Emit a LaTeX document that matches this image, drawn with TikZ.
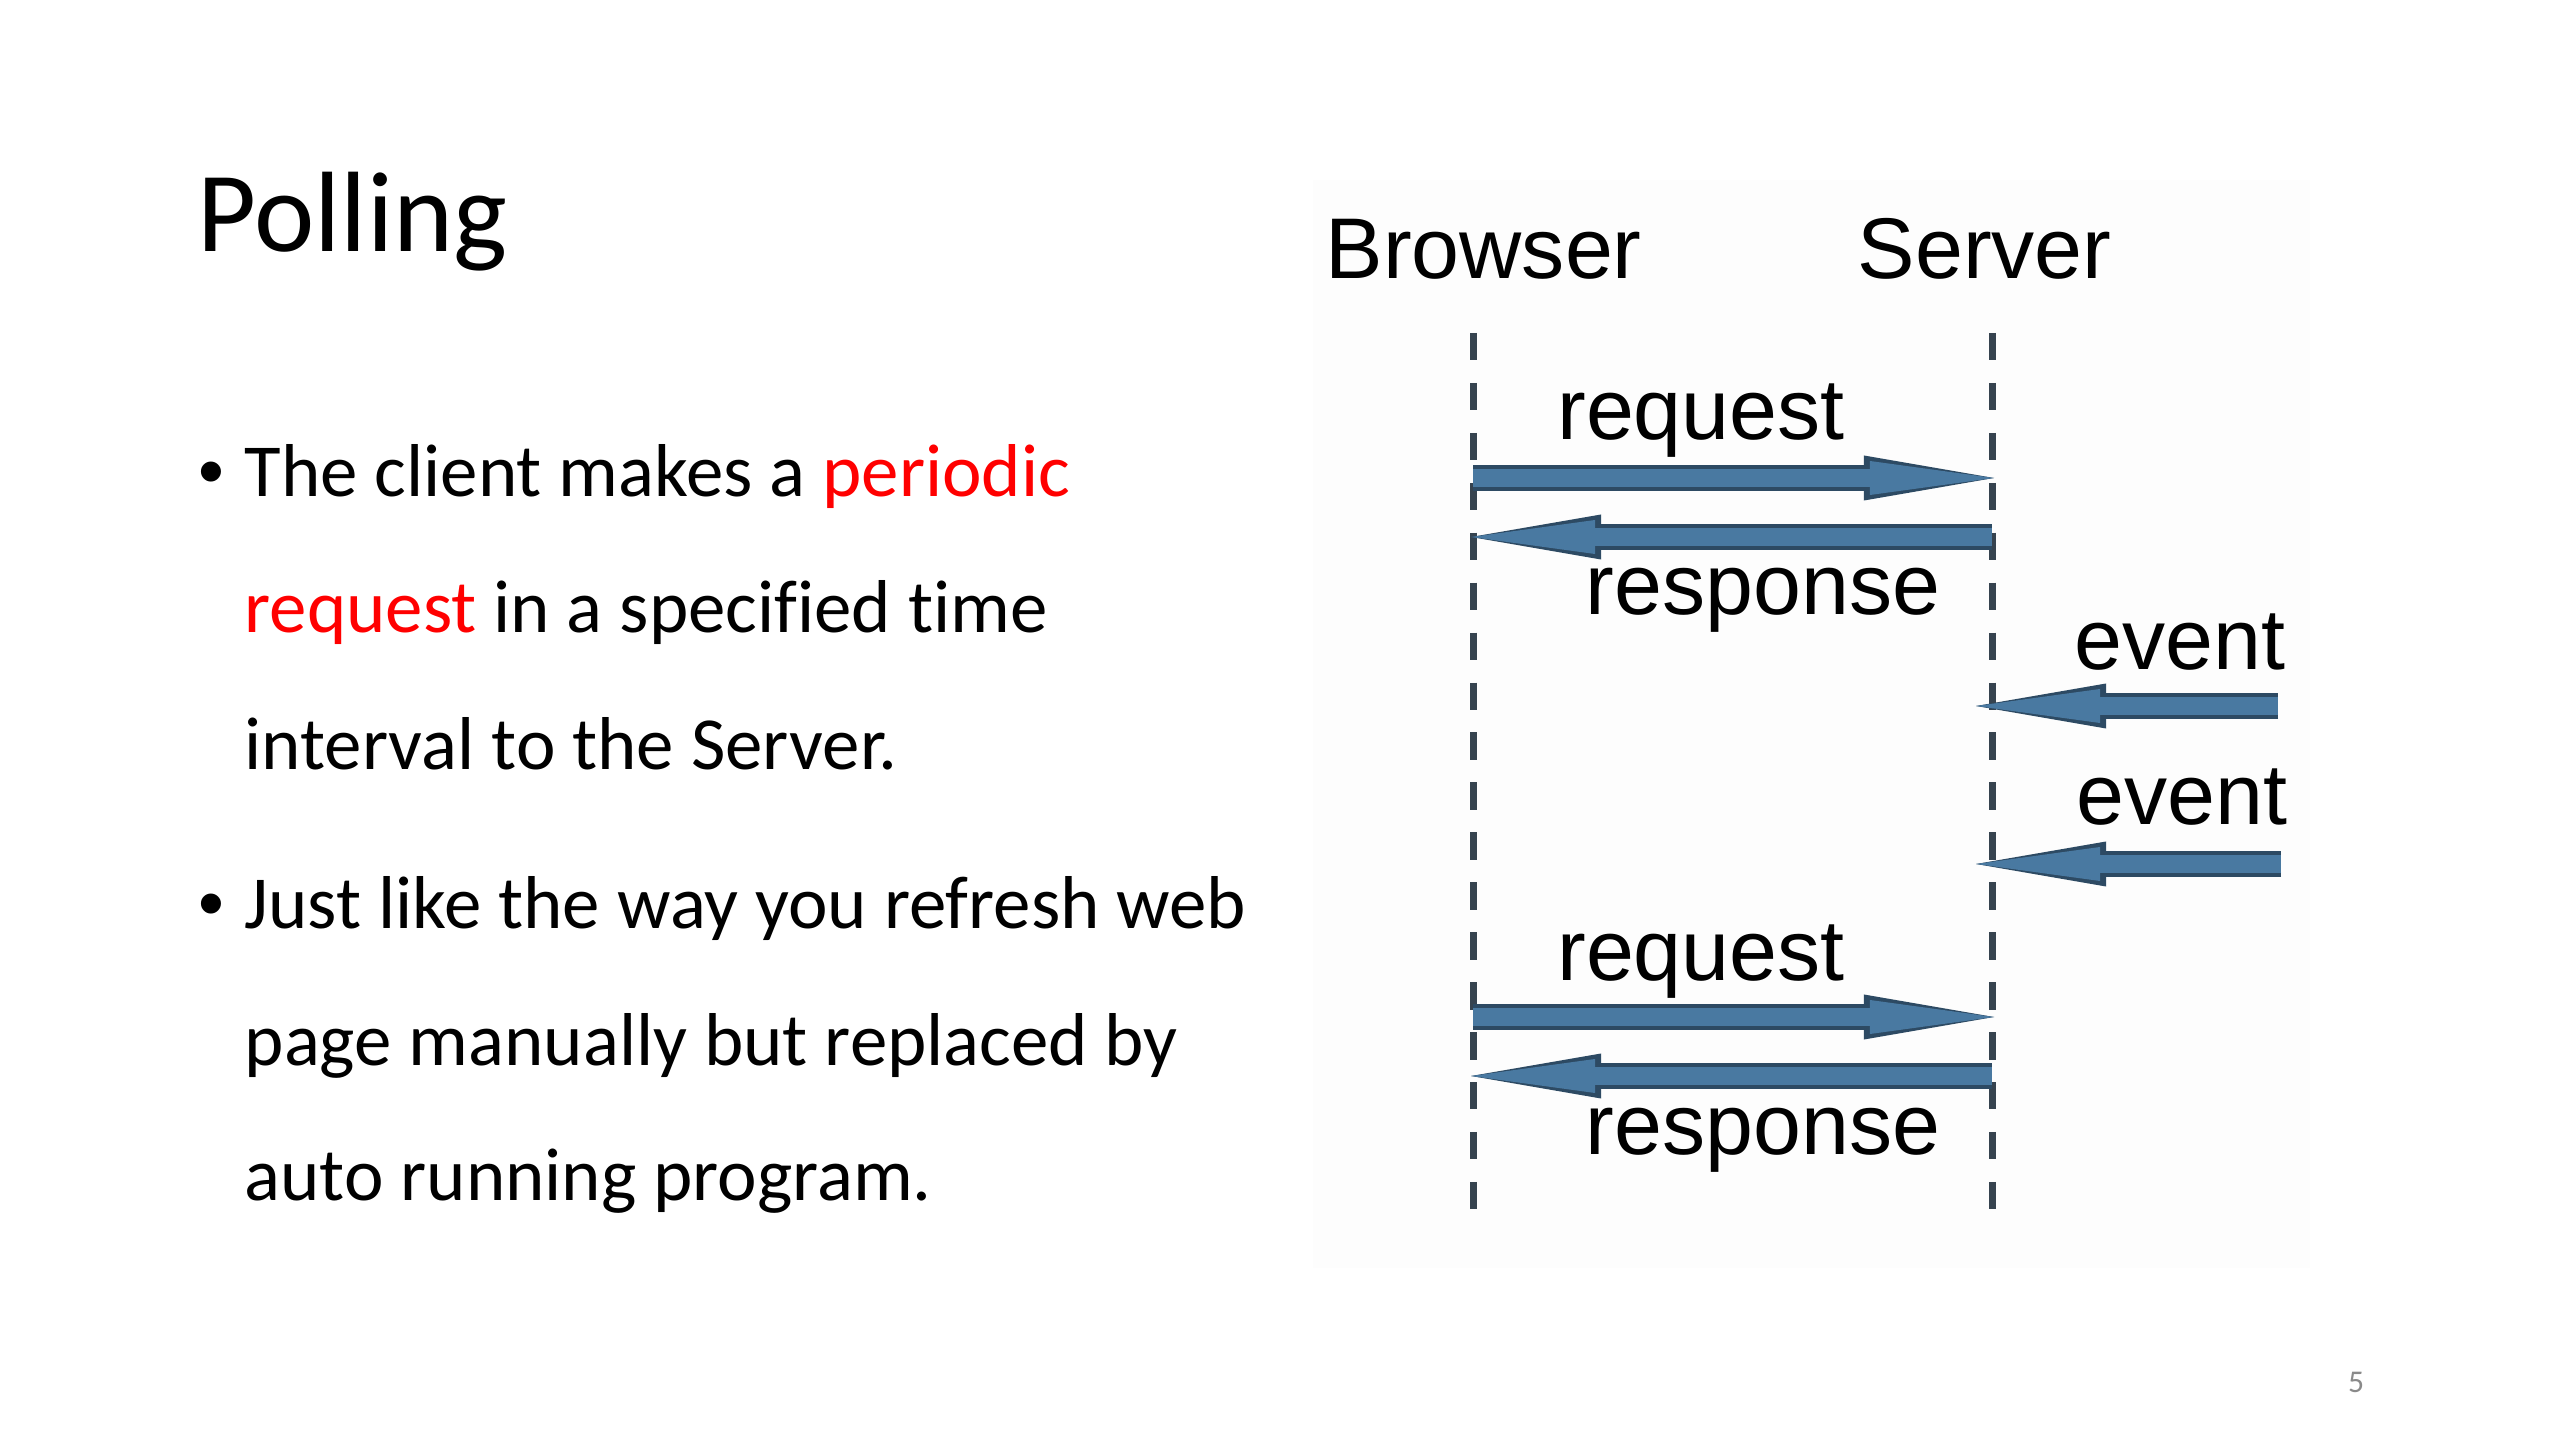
\documentclass[tikz,border=0pt]{standalone}
\usepackage{fontspec}
\setmainfont{Carlito}[Ligatures=CommonOff]
\newfontfamily\diagfont{Liberation Sans}
\usetikzlibrary{arrows.meta}
\usetikzlibrary{positioning}

\definecolor{msgblue}{HTML}{4979A1}
\definecolor{msgdark}{HTML}{2D4A63}
\definecolor{lifegray}{HTML}{36434F}
\definecolor{pptred}{HTML}{FF0000}
\definecolor{pagegray}{HTML}{8A8A8A}
\definecolor{panelgray}{HTML}{FDFDFD}

\tikzset{
  slidetext/.style={anchor=base west, inner sep=0pt, font=\fontsize{21.3}{26}\selectfont},
  bulletdot/.style={anchor=base west, inner sep=0pt, font=\diagfont\fontsize{21}{26}\selectfont},
  actor/.style={anchor=base west, inner sep=0pt, font=\diagfont\fontsize{24.5}{29}\selectfont},
  msglabel/.style={anchor=base, inner sep=0pt, font=\diagfont\fontsize{24.5}{29}\selectfont},
  lifeline/.style={draw=lifegray, line width=2pt, dash pattern=on 7.8pt off 6.4pt},
  msg/.style={draw=msgblue, line width=0.18cm,
    -{Triangle[length=12.4mm 0, width=3.4mm 0, line width=0pt 0 0, fill=msgblue]},
    preaction={draw=msgdark, line width=0.25cm,
      -{Triangle[length=13mm 0, width=4.5mm 0, line width=0pt 0 0, fill=msgdark]}}}
}

\begin{document}
\begin{tikzpicture}[x=0.01cm, y=-0.01cm]
  \useasboundingbox (0,0) rectangle (2560,1440);

  % title and bullets
  \node[anchor=base west, inner sep=0pt, font=\fontsize{32.5}{39}\selectfont] (title) at (197,252) {Polling};
  \node[bulletdot] (dot1) at (198,497) {•};
  \node[slidetext] (l1) at (244,497) {The client makes a \textcolor{pptred}{periodic}};
  \node[slidetext] (l2) at (244,633) {\textcolor{pptred}{request} in a specified time};
  \node[slidetext] (l3) at (244,770) {interval to the Server.};
  \node[bulletdot] (dot2) at (198,929) {•};
  \node[slidetext] (l4) at (244,929) {Just like the way you refresh web};
  \node[slidetext] (l5) at (244,1065) {page manually but replaced by};
  \node[slidetext] (l6) at (244,1200) {auto running program.};

  % diagram panel
  \fill[panelgray] (1313,180) rectangle (2310,1268);
  \node[actor] (browser) at (1325,279) {Browser};
  \node[actor] (server) at (1857,279) {Server};

  \coordinate (btop) at (1473,333);
  \coordinate (bbot) at (1473,1223);
  \coordinate (stop) at (1992,333);
  \coordinate (sbot) at (1992,1223);
  \draw[lifeline] (btop) -- (bbot);
  \draw[lifeline] (stop) -- (sbot);

  % messages
  \coordinate (breq1) at (1473,478);
  \coordinate (sreq1) at (1994,478);
  \coordinate (bres1) at (1471,537);
  \coordinate (sres1) at (1992,537);
  \coordinate (ev1) at (2278,706);
  \coordinate (sev1) at (1976,706);
  \coordinate (ev2) at (2281,864);
  \coordinate (sev2) at (1976,864);
  \coordinate (breq2) at (1473,1017);
  \coordinate (sreq2) at (1994,1017);
  \coordinate (bres2) at (1471,1076);
  \coordinate (sres2) at (1992,1076);

  \draw[msg] (breq1) -- (sreq1);
  \draw[msg] (sres1) -- (bres1);
  \draw[msg] (ev1) -- (sev1);
  \draw[msg] (ev2) -- (sev2);
  \draw[msg] (breq2) -- (sreq2);
  \draw[msg] (sres2) -- (bres2);

  \node[msglabel] (req1) at (1701,440) {request};
  \node[msglabel] (res1) at (1763,615) {response};
  \node[msglabel] (evl1) at (2180,670) {event};
  \node[msglabel] (evl2) at (2182,825) {event};
  \node[msglabel] (req2) at (1701,980) {request};
  \node[msglabel] (res2) at (1763,1154) {response};

  % page number
  \node[inner sep=0pt, text=pagegray, font=\fontsize{9}{11}\selectfont] (page) at (2356,1382) {5};
\end{tikzpicture}
\end{document}
